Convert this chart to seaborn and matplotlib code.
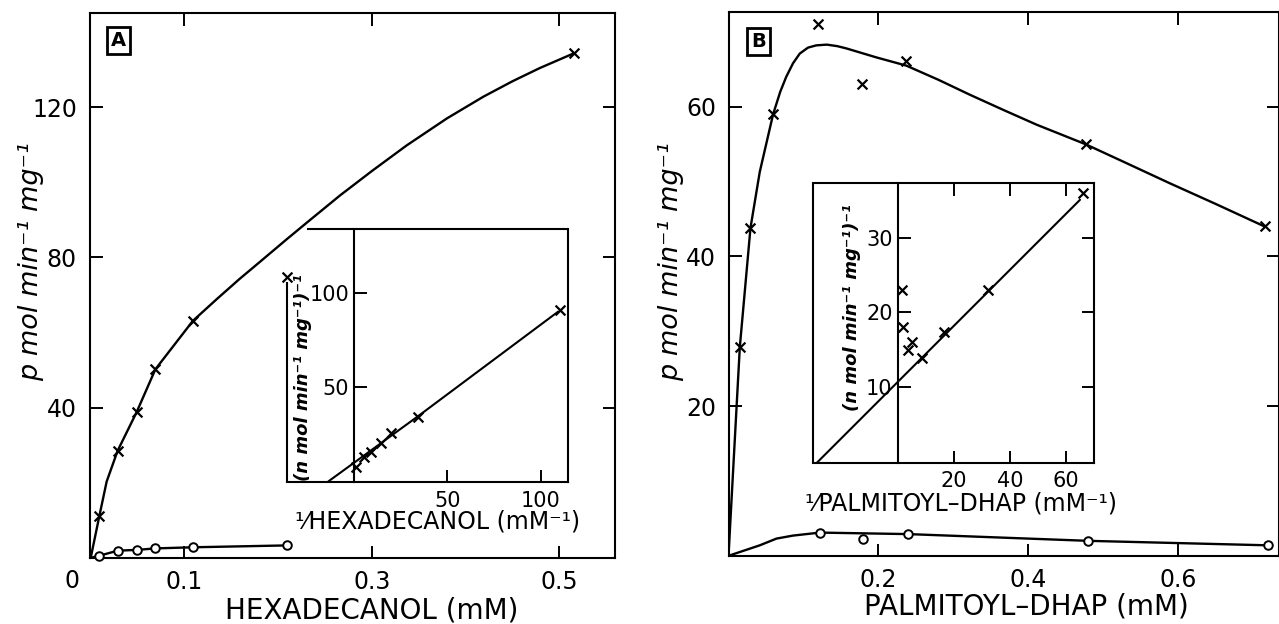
import matplotlib
matplotlib.use("Agg")
import matplotlib.pyplot as plt
import seaborn as sns

# ---------------- data ----------------
# Panel A: hexadecanol (mM) vs activity (pmol/min/mg)
a_x_marks = [0.0091, 0.0287, 0.049, 0.069, 0.109, 0.516]
a_y_marks = [11.0, 28.5, 38.8, 50.2, 63.1, 134.4]
a_curve_x = [0.0, 0.0091, 0.017, 0.0287, 0.049, 0.069, 0.109, 0.135, 0.159, 0.1805, 0.209, 0.2303, 0.266, 0.30, 0.337, 0.38, 0.419, 0.45, 0.479, 0.516]
a_curve_y = [0.0, 11.0, 20.3, 28.5, 38.8, 50.2, 63.1, 69.0, 74.3, 78.8, 84.8, 89.2, 96.5, 103.0, 109.8, 117.0, 122.8, 126.9, 130.4, 134.4]
a_circ_x = [0.0085, 0.0287, 0.049, 0.069, 0.109, 0.2097]
a_circ_y = [0.5, 1.9, 2.1, 2.5, 2.8, 3.3]
a_circ_line_x = [0.0, 0.0085, 0.0287, 0.049, 0.069, 0.109, 0.2097]
a_circ_line_y = [0.0, 0.5, 1.9, 2.1, 2.5, 2.8, 3.3]
a_xticks = [0.1, 0.3, 0.5]
a_xticklabels = ["0.1", "0.3", "0.5"]
a_yticks = [40, 80, 120]

# Inset A: 1/hexadecanol vs 1/v
ia_x = [1.3, 5.5, 9.3, 14.8, 20.0, 34.5, 110.1]
ia_y = [7.4, 12.8, 15.4, 19.9, 25.2, 34.0, 90.8]
ia_extra_x = [-35.5]
ia_extra_y = [108.5]
ia_line_x = [-13.5, 34.5, 109.2]
ia_line_y = [-0.5, 34.3, 89.9]
ia_xticks = [50, 100]
ia_yticks = [50, 100]

# Panel B: palmitoyl-DHAP (mM) vs activity
b_x_marks = [0.0151, 0.0293, 0.0595, 0.1195, 0.178, 0.237, 0.4764, 0.715]
b_y_marks = [27.9, 43.8, 59.0, 71.1, 63.1, 66.1, 55.0, 44.0]
b_curve_x = [0.0, 0.0151, 0.0293, 0.0417, 0.0595, 0.069, 0.077, 0.086, 0.095, 0.106, 0.117, 0.131, 0.145, 0.157, 0.177, 0.197, 0.237, 0.28, 0.322, 0.366, 0.411, 0.476, 0.53, 0.588, 0.65, 0.715]
b_curve_y = [0.0, 27.9, 43.8, 51.3, 59.0, 62.0, 64.0, 65.8, 67.1, 67.9, 68.2, 68.3, 68.1, 67.8, 67.2, 66.6, 65.5, 63.6, 61.6, 59.6, 57.6, 55.0, 52.5, 49.8, 47.0, 44.0]
b_circ_x = [0.1217, 0.180, 0.2395, 0.4795, 0.7195]
b_circ_y = [3.1, 2.2, 2.9, 2.0, 1.4]
b_circ_line_x = [0.0, 0.0417, 0.064, 0.086, 0.1217, 0.2395, 0.4795, 0.7195]
b_circ_line_y = [0.0, 1.4, 2.3, 2.7, 3.1, 2.9, 2.0, 1.4]
b_xticks = [0.2, 0.4, 0.6]
b_xticklabels = ["0.2", "0.4", "0.6"]
b_yticks = [20, 40, 60]

# Inset B: 1/palmitoyl-DHAP vs 1/v
ib_x = [1.3, 1.7, 3.7, 5.1, 8.5, 16.4, 32.3, 66.2]
ib_y = [23.0, 18.0, 15.0, 16.0, 13.9, 17.3, 23.0, 36.0]
ib_line_x = [-29.0, 65.0]
ib_line_y = [-0.2, 35.1]
ib_xticks = [20, 40, 60]
ib_yticks = [10, 20, 30]

# ---------------- figure ----------------
sns.set_theme(style="white")
plt.rcParams['font.family'] = ['DejaVu Sans']
plt.rcParams['axes.facecolor'] = 'none'
plt.rcParams['text.color'] = 'black'
plt.rcParams['axes.labelcolor'] = 'black'
plt.rcParams['xtick.color'] = 'black'
plt.rcParams['ytick.color'] = 'black'

W, H = 1279, 624
fig = plt.figure(figsize=(W / 100, H / 100), dpi=100)


def rect(l, r, t, b):
    return [l / W, 1 - b / H, (r - l) / W, (b - t) / H]


def fx(px):
    return px / W


def fy(py):
    return 1 - py / H


LW = 1.7
SPW = 1.5


def style_main(ax):
    for s in ax.spines.values():
        s.set_visible(True)
        s.set_linewidth(SPW)
        s.set_color('black')
    ax.tick_params(direction='in', length=9, width=1.4, top=True, right=True,
                   bottom=True, left=True, labelsize=17, pad=9,
                   colors='black', labelcolor='black')


def draw_marks(ax, x, y, **kw):
    sns.scatterplot(x=x, y=y, ax=ax, marker='x', s=50, color='black',
                    linewidth=1.6, zorder=4, clip_on=False, **kw)


def draw_circles(ax, x, y):
    sns.scatterplot(x=x, y=y, ax=ax, marker='o', s=38, facecolor='white',
                    edgecolor='black', linewidth=1.4, zorder=4, clip_on=False)


def draw_line(ax, x, y, lw=LW):
    sns.lineplot(x=x, y=y, ax=ax, color='black', lw=lw, sort=False,
                 estimator=None, zorder=3)


# ----- Panel A -----
axA = fig.add_axes(rect(89.5, 615, 12.5, 557.8))
draw_line(axA, a_curve_x, a_curve_y)
draw_marks(axA, a_x_marks, a_y_marks)
draw_line(axA, a_circ_line_x, a_circ_line_y)
draw_circles(axA, a_circ_x, a_circ_y)
axA.set_xlim(-0.0013, 0.5593)
axA.set_ylim(0, 145.2)
axA.set_xticks(a_xticks)
axA.set_xticklabels(a_xticklabels)
axA.set_yticks(a_yticks)
axA.set_xlabel("")
axA.set_ylabel("")
style_main(axA)

# ----- Inset A -----
axIA = fig.add_axes(rect(287, 568.3, 229.3, 481.7))
draw_line(axIA, ia_line_x, ia_line_y, lw=1.5)
draw_marks(axIA, ia_x, ia_y)
draw_marks(axIA, ia_extra_x, ia_extra_y)
axIA.set_xlim(-35.5, 114.6)
axIA.set_ylim(-0.6, 133.7)
axIA.set_xticks(ia_xticks)
axIA.set_yticks(ia_yticks)
axIA.set_xlabel("")
axIA.set_ylabel("")
for s in axIA.spines.values():
    s.set_linewidth(SPW)
    s.set_color('black')
axIA.spines['left'].set_visible(True)
axIA.spines['left'].set_position(('data', 0))
axIA.spines['top'].set_visible(False)
axIA.spines['right'].set_visible(True)
axIA.spines['bottom'].set_visible(True)
axIA.tick_params(direction='in', length=9, width=1.4, top=False, right=False,
                 bottom=True, left=True, labelsize=15, colors='black',
                 labelcolor='black')
axIA.tick_params(axis='y', pad=3)
axIA.tick_params(axis='x', pad=7)
# partial box edges (corner cut by main curve in reference)
axIA.plot([0.07, 1.0], [1.0, 1.0], transform=axIA.transAxes, color='black',
          lw=SPW, clip_on=False, solid_capstyle='butt')
axIA.plot([0.0, 0.0], [0.0, 0.79], transform=axIA.transAxes, color='black',
          lw=SPW, clip_on=False, solid_capstyle='butt')

# ----- Panel B -----
axB = fig.add_axes(rect(728.5, 1278.5, 11.7, 555.8))
draw_line(axB, b_curve_x, b_curve_y)
draw_marks(axB, b_x_marks, b_y_marks)
draw_line(axB, b_circ_line_x, b_circ_line_y)
draw_circles(axB, b_circ_x, b_circ_y)
axB.set_xlim(0, 0.7335)
axB.set_ylim(0, 72.7)
axB.set_xticks(b_xticks)
axB.set_xticklabels(b_xticklabels)
axB.set_yticks(b_yticks)
axB.set_xlabel("")
axB.set_ylabel("")
style_main(axB)

# ----- Inset B -----
axIB = fig.add_axes(rect(813, 1093.7, 182.7, 462.7))
draw_line(axIB, ib_line_x, ib_line_y, lw=1.5)
draw_marks(axIB, ib_x, ib_y)
axIB.set_xlim(-30.4, 69.9)
axIB.set_ylim(-0.2, 37.4)
axIB.set_xticks(ib_xticks)
axIB.set_yticks(ib_yticks)
axIB.set_xlabel("")
axIB.set_ylabel("")
for s in axIB.spines.values():
    s.set_visible(True)
    s.set_linewidth(SPW)
    s.set_color('black')
axIB.spines['left'].set_position(('data', 0))
axIB.tick_params(direction='in', length=9, width=1.4, top=True, right=True,
                 bottom=True, left=True, labelsize=15, colors='black',
                 labelcolor='black', labeltop=False, labelright=False)
axIB.tick_params(axis='y', pad=4)
axIB.tick_params(axis='x', pad=6)
axIB.plot([0.0, 0.0], [0.0, 1.0], transform=axIB.transAxes, color='black',
          lw=SPW, clip_on=False, solid_capstyle='butt')

# ---------------- texts ----------------
fig.text(fx(72), fy(581), "0", fontsize=17, ha='center', va='center')
fig.text(fx(371.7), fy(610), "HEXADECANOL (mM)", fontsize=20, ha='center', va='center')
fig.text(fx(1026.7), fy(607), "PALMITOYL–DHAP (mM)", fontsize=20, ha='center', va='center')
fig.text(fx(31), fy(262), "p mol min⁻¹ mg⁻¹", fontsize=19.5, style='italic',
         rotation=90, ha='center', va='center')
fig.text(fx(671), fy(262), "p mol min⁻¹ mg⁻¹", fontsize=19.5, style='italic',
         rotation=90, ha='center', va='center')

fig.text(fx(438), fy(522), "¹⁄HEXADECANOL (mM⁻¹)", fontsize=17, ha='center', va='center')
fig.text(fx(961), fy(503), "¹⁄PALMITOYL–DHAP (mM⁻¹)", fontsize=17, ha='center', va='center')
fig.text(fx(303), fy(378), "(n mol min⁻¹ mg⁻¹)⁻¹", fontsize=13, style='italic',
         weight='bold', rotation=90, ha='center', va='center')
fig.text(fx(851.7), fy(308), "(n mol min⁻¹ mg⁻¹)⁻¹", fontsize=13, style='italic',
         weight='bold', rotation=90, ha='center', va='center')

box = dict(boxstyle='square,pad=0.2', fc='white', ec='black', lw=2.0)
fig.text(fx(118.3), fy(40.5), "A", fontsize=14, weight='bold', ha='center',
         va='center', bbox=box)
fig.text(fx(758.7), fy(41.7), "B", fontsize=14, weight='heavy', ha='center',
         va='center', bbox=box)

fig.savefig("out.png", dpi=100)
